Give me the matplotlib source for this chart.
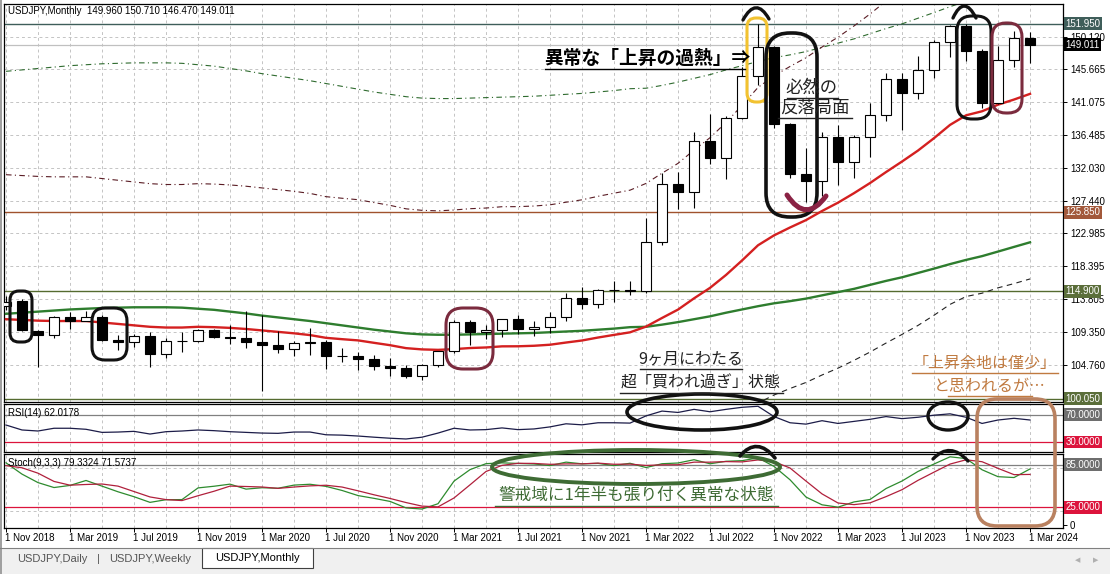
import numpy as np
import pandas as pd
import matplotlib
matplotlib.use("Agg")
import matplotlib.pyplot as plt
from matplotlib.patches import FancyBboxPatch, Ellipse, PathPatch, Rectangle
from matplotlib.path import Path

plt.rcParams['font.family'] = ['Liberation Sans', 'DejaVu Sans']
JP = ['Noto Sans CJK JP', 'DejaVu Sans']

# ---------------- USDJPY monthly candles, Nov 2018 .. Mar 2024 ----------------
months = pd.period_range('2018-11', '2024-03', freq='M')
opens = [112.90, 113.55, 109.40, 108.85, 111.35, 110.85, 111.40, 108.20, 107.90, 108.70,
         106.25, 108.05, 108.00, 109.50, 108.60, 108.40, 107.90, 107.50, 106.90, 107.75,
         107.90, 105.90, 105.90, 105.50, 104.60, 104.30, 103.25, 104.70, 106.60, 110.70,
         109.30, 109.60, 111.10, 109.70, 110.00, 111.30, 113.95, 113.15, 115.10, 115.10,
         115.00, 121.70, 129.80, 128.70, 135.70, 133.30, 138.95, 144.75, 148.70, 138.05,
         131.10, 130.10, 136.20, 132.80, 136.30, 139.30, 144.30, 142.30, 145.50, 149.35,
         151.65, 148.20, 141.00, 146.90, 149.96]
highs = [114.20, 113.85, 109.60, 111.50, 112.10, 112.20, 111.70, 108.80, 109.00, 109.30,
         108.50, 109.30, 109.70, 109.70, 110.20, 112.20, 111.70, 109.40, 108.10, 109.85,
         108.20, 107.05, 106.55, 106.10, 105.70, 104.70, 104.90, 106.70, 110.97, 110.95,
         110.20, 111.10, 111.66, 110.80, 112.07, 114.70, 115.50, 115.20, 116.35, 116.30,
         125.10, 131.25, 131.35, 137.00, 139.40, 139.10, 145.90, 151.95, 148.85, 138.20,
         134.75, 136.90, 137.90, 136.55, 140.90, 145.05, 145.05, 147.40, 149.70, 151.70,
         151.90, 148.40, 148.80, 150.90, 150.71]
lows = [112.30, 109.40, 104.50, 108.50, 109.70, 110.80, 108.00, 106.80, 107.20, 104.45,
        105.75, 106.50, 107.90, 108.40, 107.65, 107.00, 101.18, 106.35, 105.99, 106.07,
        104.20, 105.10, 104.00, 104.00, 103.20, 102.90, 102.60, 104.40, 106.40, 107.50,
        108.35, 108.60, 109.06, 108.70, 109.10, 110.80, 112.50, 112.55, 113.47, 114.40,
        114.65, 121.30, 126.35, 126.40, 132.50, 130.40, 138.80, 143.50, 137.50, 130.55,
        127.20, 128.10, 129.65, 130.60, 133.50, 138.40, 137.25, 141.50, 144.40, 147.30,
        146.70, 140.25, 140.80, 145.90, 146.47]
closes = [113.50, 109.60, 108.85, 111.35, 110.85, 111.40, 108.20, 107.85, 108.70, 106.25,
          108.05, 108.00, 109.50, 108.60, 108.40, 107.90, 107.50, 106.90, 107.80, 107.90,
          105.90, 105.90, 105.50, 104.60, 104.30, 103.25, 104.70, 106.60, 110.70, 109.30,
          109.60, 111.10, 109.70, 110.00, 111.30, 113.95, 113.15, 115.10, 115.10, 115.00,
          121.70, 129.80, 128.70, 135.70, 133.30, 138.95, 144.75, 148.70, 138.05, 131.10,
          130.10, 136.20, 132.80, 136.30, 139.30, 144.30, 142.30, 145.50, 149.35, 151.65,
          148.20, 141.00, 146.90, 149.96, 149.011]

# moving-average values before enough history exists inside the window
ma20_lead = [111.05, 110.95, 110.85, 110.80, 110.80, 110.80, 110.60, 110.40, 110.20, 110.00,
             109.90, 109.90, 110.00, 109.95, 109.85, 109.70, 109.50, 109.30, 109.10]
ma60_lead = [111.80, 111.95, 112.10, 112.25, 112.40, 112.50, 112.60, 112.65, 112.70, 112.70,
             112.70, 112.65, 112.50, 112.35, 112.10, 111.85, 111.55, 111.30, 111.05, 110.80,
             110.50, 110.20, 109.90, 109.60, 109.35, 109.10, 108.95, 108.90, 108.90, 108.95,
             109.00, 109.05, 109.10, 109.15, 109.25, 109.35, 109.45, 109.60, 109.75, 109.95,
             110.00, 110.30, 110.65, 111.05, 111.45, 111.95, 112.40, 112.85, 113.25, 113.55,
             113.90, 114.35, 114.80, 115.25, 115.80, 116.35, 116.85, 117.45, 118.05]

rsi14 = [54.7, 47.5, 46.0, 50.0, 50.0, 48.5, 44.0, 44.5, 45.5, 41.6,
         45.0, 46.0, 47.5, 46.5, 45.0, 44.0, 43.0, 42.6, 44.5, 44.5,
         40.5, 40.0, 38.7, 37.0, 35.5, 34.4, 37.0, 43.0, 50.0, 47.5,
         48.0, 50.5, 48.0, 49.0, 52.0, 56.5, 55.0, 58.0, 58.0, 57.5,
         68.0, 75.0, 73.0, 77.5, 74.0, 77.5, 80.5, 82.0, 67.0, 58.0,
         56.0, 61.0, 57.0, 60.0, 63.0, 67.0, 64.0, 66.0, 69.0, 71.0,
         66.0, 57.0, 62.0, 64.5, 62.0178]
stoch_k_lead = [88.0, 72.0, 60.0, 53.0, 56.0, 63.0, 55.0, 47.0, 40.0, 32.0]
stoch_d_lead = [84.0, 81.0]
stoch_now = [79.3324, 71.5737]   # %K, %D of the current bar

price_ticks = [150.120, 145.665, 141.075, 136.485, 132.030, 127.440,
               122.985, 118.395, 113.805, 109.350, 104.760]
hlines = {151.950: ('#3f5e5a', '#3f5e5a'), 125.850: ('#a0522d', '#a2583a'),
          114.900: ('#556b2f', '#5b6e3a'), 100.050: ('#556b2f', '#5b6e3a')}

# ---------------- indicators ----------------
o = np.array(opens); h = np.array(highs); l = np.array(lows); c = np.array(closes)
n = len(c)
idx = np.arange(n)
cs = pd.Series(c)
ma20 = cs.rolling(20).mean().to_numpy()
ma20[:len(ma20_lead)] = ma20_lead
ma60 = cs.rolling(60).mean().to_numpy()
ma60[:len(ma60_lead)] = ma60_lead
env20_up, env20_dn = ma20 * 1.18, ma20 * 0.82
env60_up = ma60 * 1.30

hh = pd.Series(h).rolling(9).max()
ll = pd.Series(l).rolling(9).min()
k = (100 * (cs - ll).rolling(3).sum() / (hh - ll).rolling(3).sum()).to_numpy()
k[:len(stoch_k_lead)] = stoch_k_lead
k[-1] = stoch_now[0]
d = pd.Series(k).rolling(3).mean().to_numpy()
d[:len(stoch_d_lead)] = stoch_d_lead
d[-1] = stoch_now[1]

# ---------------- figure layout (pixel based) ----------------
W, H = 1110, 574
fig = plt.figure(figsize=(W / 100, H / 100), dpi=100)
fig.patch.set_facecolor('white')


def px_box(x0, y0, x1, y1):
    return [x0 / W, 1 - y1 / H, (x1 - x0) / W, (y1 - y0) / H]


# window furniture: tab strip at the bottom
fig.patches.append(Rectangle((0, 0), 1, 26 / H, transform=fig.transFigure,
                             facecolor='#f0f0f0', edgecolor='none', zorder=0))
fig.patches.append(Rectangle((0, 0), 2 / W, 1, transform=fig.transFigure,
                             facecolor='#a0a0a0', edgecolor='none', zorder=0))

XL = (-0.125, 66.06)
ax = fig.add_axes(px_box(4, 4, 1063, 402))
ax_r = fig.add_axes(px_box(4, 404, 1063, 452))
ax_s = fig.add_axes(px_box(4, 454, 1063, 528))

GRID = dict(color='#c4c4c4', lw=0.7, ls=(0, (3, 3)), zorder=0)
for a in (ax, ax_r, ax_s):
    a.set_xlim(*XL)
    for s in a.spines.values():
        s.set_color('black'); s.set_linewidth(0.9)
    for i in range(0, 66, 2):
        a.axvline(i, **GRID)
    a.set_xticks([])
    a.yaxis.tick_right()
    a.tick_params(axis='y', length=3, width=0.7, pad=2, labelsize=7, colors='black')

# ---- main pane ----
ax.set_ylim(99.60, 154.65)
for p in price_ticks:
    ax.axhline(p, **GRID)
ax.set_yticks(price_ticks)
ax.set_yticklabels([f'{p:.3f}' for p in price_ticks])

for p, (lc, bc) in hlines.items():
    ax.axhline(p, color=lc, lw=1.0, zorder=1)
    ax.text(1.0025, p, f'{p:.3f}', transform=ax.get_yaxis_transform(), fontsize=7,
            color='white', va='center', ha='left', zorder=10, clip_on=False,
            bbox=dict(boxstyle='square,pad=0.15', fc=bc, ec='none'))
ax.axhline(c[-1], color='#c0c0c0', lw=0.9, zorder=1)
ax.text(1.0025, c[-1], f'{c[-1]:.3f}', transform=ax.get_yaxis_transform(), fontsize=7,
        color='white', va='center', ha='left', zorder=11, clip_on=False,
        bbox=dict(boxstyle='square,pad=0.15', fc='black', ec='none'))

ax.plot(idx, env60_up, color='#2f6b2f', lw=0.8, ls=(0, (5, 3, 1, 3)), zorder=2)
ax.plot(idx, env20_up, color='#5a1c24', lw=0.8, ls=(0, (5, 3, 1, 3)), zorder=2)
ax.plot(idx, env20_dn, color='#222222', lw=0.8, ls=(0, (5, 4)), zorder=2)
ax.plot(idx, ma60, color='#2e7d2e', lw=1.7, zorder=3)
ax.plot(idx, ma20, color='#d42020', lw=1.7, zorder=3)

up = c >= o
ax.vlines(idx, l, h, color='black', lw=0.8, zorder=4)
body_lo = np.minimum(o, c)
body_h = np.maximum(np.abs(c - o), 0.05)
ax.bar(idx, body_h, bottom=body_lo, width=0.62,
       color=np.where(up, 'white', 'black'), edgecolor='black', linewidth=0.8, zorder=5)

# ---- RSI pane ----
ax_r.set_ylim(15.45, 85.3)
ax_r.set_yticks([])
ax_r.axhline(70, color='#808080', lw=0.9)
ax_r.axhline(30, color='#dc143c', lw=0.9)
ax_r.plot(idx, rsi14, color='#1c1c48', lw=0.9)
for lev, bc in ((70, '#6e6e6e'), (30, '#dc143c')):
    ax_r.text(1.0025, lev, f'{lev:.4f}', transform=ax_r.get_yaxis_transform(), fontsize=7,
              color='white', va='center', ha='left', clip_on=False,
              bbox=dict(boxstyle='square,pad=0.15', fc=bc, ec='none'))

# ---- Stochastic pane ----
ax_s.set_ylim(-4.3, 100.5)
ax_s.set_yticks([0])
ax_s.set_yticklabels(['0'])
for lev in (80, 20):
    ax_s.axhline(lev, **GRID)
ax_s.axhline(85, color='#808080', lw=0.9)
ax_s.axhline(25, color='#dc143c', lw=0.9)
ax_s.plot(idx, k, color='#2e8b2e', lw=0.9)
ax_s.plot(idx, d, color='#b0203c', lw=0.9)
for lev, bc in ((85, '#6e6e6e'), (25, '#dc143c')):
    ax_s.text(1.0025, lev, f'{lev:.4f}', transform=ax_s.get_yaxis_transform(), fontsize=7,
              color='white', va='center', ha='left', clip_on=False,
              bbox=dict(boxstyle='square,pad=0.15', fc=bc, ec='none'))

# date axis under the last pane
date_pos = list(range(0, n, 4))
ax_s.set_xticks(date_pos)
ax_s.set_xticklabels([])
ax_s.tick_params(axis='x', length=3, width=0.7, direction='out')
for i in date_pos:
    ax_s.annotate(f"1 {months[i].strftime('%b %Y')}", xy=(i, 0), xycoords=('data', 'axes fraction'),
                  xytext=(-1, -10), textcoords='offset pixels', fontsize=7, ha='left', va='center',
                  annotation_clip=False)

# ---------------- overlay: headers, tabs and hand-drawn notes ----------------
ov = fig.add_axes([0, 0, 1, 1], zorder=20)
ov.set_xlim(0, W); ov.set_ylim(H, 0); ov.axis('off'); ov.patch.set_alpha(0)

ov.text(8, 11, f"USDJPY,Monthly  {o[-1]:.3f} {h[-1]:.3f} {l[-1]:.3f} {c[-1]:.3f}",
        fontsize=7, va='center', ha='left')
ov.text(8, 413, f"RSI(14) {rsi14[-1]:.4f}", fontsize=7, va='center', ha='left')
ov.text(8, 463, f"Stoch(9,3,3) {k[-1]:.4f} {d[-1]:.4f}", fontsize=7, va='center', ha='left')

ov.plot([0, W], [548, 548], color='#808080', lw=0.8)
ov.add_patch(Rectangle((202, 548), 111, 20, facecolor='white', edgecolor='#404040', lw=0.8))
ov.text(52, 559, 'USDJPY,Daily', fontsize=8, color='#555555', ha='center', va='center')
ov.text(98, 559, '|', fontsize=8, color='#555555', ha='center', va='center')
ov.text(150, 559, 'USDJPY,Weekly', fontsize=8, color='#555555', ha='center', va='center')
ov.text(257, 558, 'USDJPY,Monthly', fontsize=8, color='black', ha='center', va='center')
ov.text(1078, 560, '◀', fontsize=5, color='#b0b0b0', ha='center', va='center', family=['DejaVu Sans'])
ov.text(1096, 560, '▶', fontsize=5, color='#b0b0b0', ha='center', va='center', family=['DejaVu Sans'])


def rbox(x0, y0, x1, y1, r, color, lw=2.2):
    ov.add_patch(FancyBboxPatch((x0, y0), x1 - x0, y1 - y0,
                                boxstyle=f"round,pad=0,rounding_size={r}",
                                fill=False, ec=color, lw=lw))


def curve(pts, color, lw=2.2):
    ov.add_patch(PathPatch(Path(pts, [Path.MOVETO] + [Path.CURVE3] * (len(pts) - 1)),
                           fill=False, ec=color, lw=lw, capstyle='round'))


def note(x, y, s, size, color, ul=None, weight='normal', ha='center'):
    ov.text(x, y, s, fontsize=size, color=color, family=JP, ha=ha, va='center',
            fontweight=weight)
    if ul:
        ov.plot(ul[:2], [ul[2], ul[2]], color=color, lw=1.0)


BLACK, MAROON, YELLOW = '#111111', '#7b2b3e', '#f2c230'
BROWN, DGREEN = '#b98160', '#3e6b34'

rbox(10, 291, 32, 342, 9, BLACK)
rbox(92, 308, 127, 360, 13, BLACK)
rbox(446, 308, 493, 369, 17, MAROON)
rbox(747, 18, 767, 102, 9, YELLOW)
curve([(743, 20), (756, -4), (769, 19)], BLACK, 2.4)
rbox(766, 33, 817, 217, 24, BLACK, 2.6)
curve([(787, 195), (806, 224), (826, 196)], '#8a2244', 3.6)
rbox(957, 16, 991, 119, 15, BLACK)
curve([(953, 18), (964, -6), (976, 18)], BLACK, 2.4)
rbox(992, 23, 1022, 113, 14, MAROON)

note(647, 58, '異常な「上昇の過熱」⇒', 13.5, 'black', ul=(545, 745, 69), weight='bold')
note(812, 88, '必然の', 12.5, '#222222', ul=(787, 838, 98))
note(815, 108, '反落局面', 12.5, '#222222', ul=(778, 852, 118))
note(691, 359, '9ヶ月にわたる', 11.5, '#222222', ul=(640, 742, 369))
note(701, 383, '超「買われ過ぎ」状態', 11.5, '#222222', ul=(620, 783, 393))
note(985, 363, '「上昇余地は僅少」', 11.5, '#c07a40', ul=(912, 1058, 373))
note(990, 386, 'と思われるが…', 11.5, '#c07a40', ul=(948, 1032, 396))
note(636, 495, '警戒域に1年半も張り付く異常な状態', 12, DGREEN, ul=(495, 778, 506))

ov.add_patch(Ellipse((702, 412), 150, 36, fill=False, ec=BLACK, lw=2.6))
ov.add_patch(Ellipse((948, 416), 40, 28, fill=False, ec=BLACK, lw=2.4))
rbox(977, 399, 1055, 526, 20, BROWN, 2.6)
ov.add_patch(Ellipse((636, 467), 288, 34, fill=False, ec=DGREEN, lw=2.8))
curve([(740, 456), (757, 436), (775, 458)], BLACK, 2.6)
curve([(933, 459), (950, 441), (968, 461)], BLACK, 2.4)

fig.savefig('out.png', dpi=100, facecolor=fig.get_facecolor())
